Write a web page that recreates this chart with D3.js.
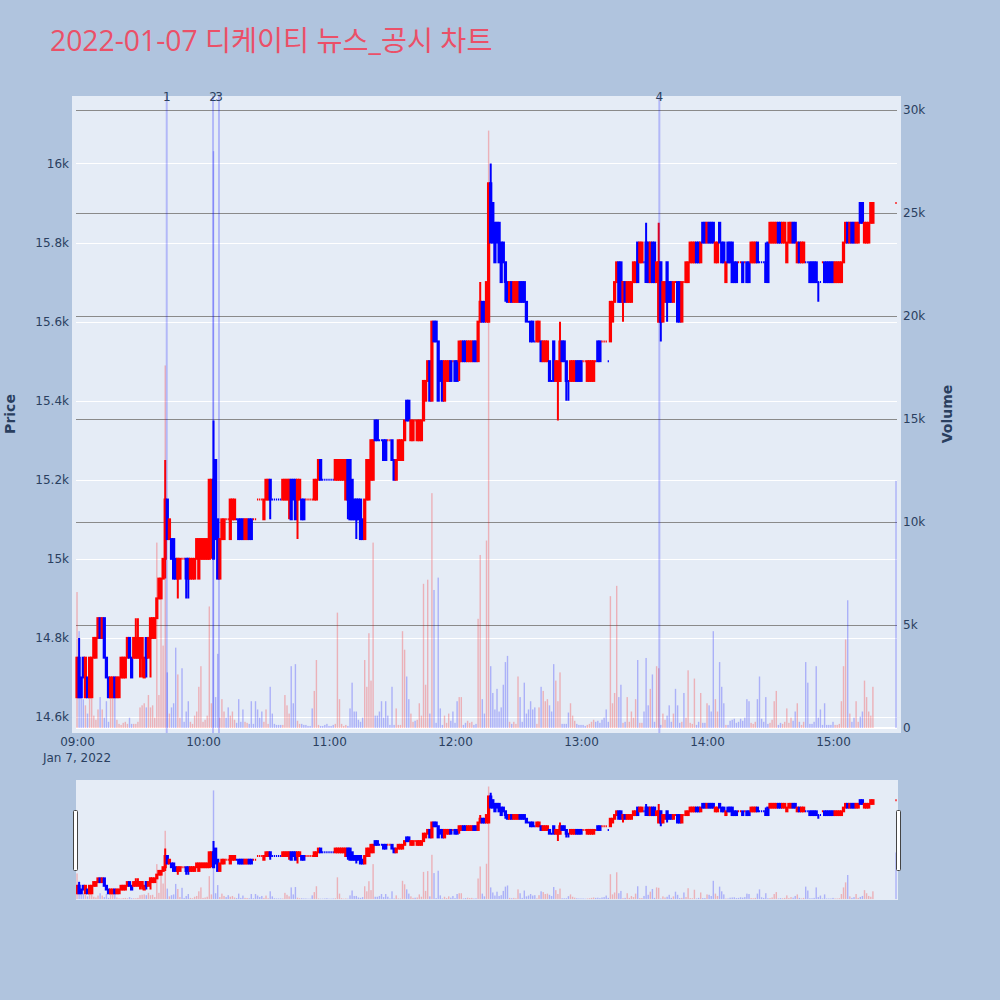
<!DOCTYPE html>
<html><head><meta charset="utf-8">
<script src="https://cdn.jsdelivr.net/npm/d3@7"></script>
<style>body{margin:0;background:#B0C4DE}svg{display:block}</style>
</head><body><svg id="c" width="1000" height="1000"></svg>
<script>
const chartTitle = "2022-01-07 디케이티 뉴스_공시 차트";
const tradeDate = "2022-01-07";
// minutes after 09:00 that carry a candle (continuous session to 15:19, closing auction at 15:30)
const minuteIndex = [...d3.range(0, 380), 390];

const open = [
14650,14750,14700,14750,14650,14700,14650,14650,14750,14750,
14800,14850,14800,14850,14750,14700,14650,14650,14700,14650,
14650,14700,14700,14700,14750,14800,14750,14750,14750,14750,
14750,14750,14700,14800,14750,14800,14800,14800,14850,14900,
14900,14950,15000,15150,15050,15050,15050,15000,14950,14950,
15000,15000,15000,15000,14950,14950,14950,15000,14950,15000,
15000,15000,15000,15000,15050,15200,15250,15100,14950,15050,
15050,15100,15100,15050,15100,15100,15100,15100,15100,15100,
15050,15050,15100,15100,15100,15100,15150,15150,15150,15100,
15150,15150,15200,15150,15150,15150,15150,15150,15150,15150,
15150,15150,15200,15200,15200,15150,15150,15150,15150,15150,
15150,15150,15150,15150,15150,15200,15250,15200,15200,15200,
15200,15200,15200,15200,15200,15200,15200,15200,15150,15250,
15250,15200,15150,15150,15150,15150,15100,15050,15150,15150,
15200,15200,15350,15350,15300,15300,15300,15300,15300,15300,
15300,15250,15200,15250,15250,15250,15300,15400,15400,15300,
15300,15350,15300,15300,15300,15350,15400,15450,15500,15400,
15600,15600,15550,15500,15500,15400,15450,15450,15500,15500,
15500,15500,15500,15500,15550,15550,15500,15500,15500,15550,
15550,15500,15600,15650,15650,15600,15600,15950,15900,15850,
15850,15850,15800,15800,15750,15700,15650,15700,15650,15650,
15650,15700,15700,15700,15650,15600,15600,15600,15550,15550,
15550,15550,15500,15500,15500,15500,15450,15550,15450,15450,
15450,15550,15550,15500,15450,15450,15450,15450,15500,15500,
15500,15500,15500,15450,15450,15450,15450,15500,15550,15550,
15550,15550,15550,15500,15550,15600,15650,15700,15750,15750,
15650,15700,15650,15650,15650,15700,15700,15800,15750,15750,
15750,15800,15800,15700,15800,15800,15700,15600,15750,15600,
15650,15750,15700,15700,15650,15700,15700,15700,15600,15700,
15700,15700,15750,15750,15750,15800,15800,15750,15850,15850,
15800,15850,15850,15850,15750,15750,15850,15800,15800,15700,
15800,15800,15800,15750,15750,15750,15750,15750,15750,15750,
15750,15750,15750,15750,15800,15750,15750,15750,15750,15800,
15800,15800,15800,15800,15850,15850,15800,15800,15750,15800,
15800,15850,15850,15750,15800,15750,15750,15750,15750,15750,
15750,15750,15750,15700,15700,15750,15750,15750,15750,15750,
15750,15700,15700,15700,15700,15750,15800,15850,15800,15850,
15850,15800,15800,15900,15900,15800,15800,15800,15850,15850,
15900];

const high = [
14750,14800,14700,14750,14750,14700,14750,14750,14800,14800,
14850,14850,14850,14850,14750,14700,14700,14700,14700,14700,
14700,14750,14750,14750,14800,14800,14750,14800,14850,14850,
14800,14800,14750,14800,14800,14850,14850,14850,14900,14950,
14950,15000,15250,15150,15100,15050,15050,15000,15000,15000,
15000,15000,15000,15000,15000,15000,15000,15050,15050,15050,
15050,15050,15050,15200,15200,15350,15250,15100,15050,15100,
15100,15100,15100,15150,15150,15150,15100,15100,15100,15100,
15100,15100,15100,15100,15100,15100,15150,15150,15150,15150,
15200,15200,15200,15150,15150,15150,15150,15150,15200,15200,
15200,15200,15200,15200,15200,15200,15200,15150,15150,15150,
15150,15150,15150,15200,15200,15250,15250,15200,15200,15200,
15200,15200,15200,15250,15250,15250,15250,15250,15250,15250,
15250,15200,15150,15150,15150,15150,15100,15150,15250,15250,
15300,15300,15350,15350,15300,15300,15300,15300,15300,15300,
15300,15250,15250,15300,15300,15300,15350,15400,15400,15350,
15350,15350,15350,15350,15350,15450,15450,15500,15500,15600,
15600,15600,15550,15500,15500,15500,15500,15500,15500,15500,
15500,15500,15550,15550,15550,15550,15550,15550,15550,15550,
15550,15600,15700,15650,15650,15700,15950,16000,15900,15850,
15850,15850,15800,15800,15750,15700,15700,15700,15700,15700,
15700,15700,15700,15700,15650,15600,15600,15600,15550,15600,
15600,15550,15550,15550,15550,15500,15450,15550,15500,15500,
15600,15550,15550,15500,15450,15500,15500,15500,15500,15500,
15500,15500,15500,15500,15500,15500,15500,15500,15550,15550,
15550,15550,15550,15500,15650,15650,15700,15750,15750,15750,
15700,15700,15700,15700,15700,15750,15750,15800,15800,15800,
15750,15850,15800,15800,15800,15800,15750,15850,15750,15700,
15700,15750,15700,15700,15700,15700,15700,15700,15700,15700,
15750,15750,15800,15800,15800,15800,15800,15800,15850,15850,
15850,15850,15850,15850,15800,15800,15850,15800,15800,15750,
15800,15800,15800,15750,15750,15750,15750,15750,15750,15750,
15750,15800,15800,15800,15800,15750,15750,15750,15800,15800,
15850,15850,15850,15850,15850,15850,15850,15850,15800,15850,
15850,15850,15850,15800,15800,15800,15800,15750,15750,15750,
15750,15750,15750,15700,15700,15750,15750,15750,15750,15750,
15750,15750,15750,15750,15750,15800,15850,15850,15850,15850,
15850,15850,15850,15900,15900,15850,15850,15850,15900,15900,
15900];

const low = [
14650,14650,14650,14700,14650,14650,14650,14650,14750,14750,
14800,14800,14800,14750,14700,14650,14650,14650,14650,14650,
14650,14700,14700,14700,14750,14750,14700,14750,14750,14750,
14700,14700,14700,14700,14750,14700,14800,14800,14850,14900,
14900,14950,14950,15050,15050,15000,14950,14950,14900,14950,
15000,15000,14900,14900,14950,14950,14950,15000,14950,15000,
15000,15000,15000,15000,15000,15000,15050,14950,14950,15050,
15050,15100,15100,15050,15100,15100,15100,15050,15050,15050,
15050,15050,15050,15050,15100,15100,15150,15150,15150,15100,
15150,15150,15100,15150,15150,15150,15150,15150,15150,15150,
15150,15100,15100,15150,15100,15050,15150,15100,15100,15150,
15150,15150,15150,15150,15150,15200,15200,15200,15200,15200,
15200,15200,15200,15200,15200,15200,15200,15200,15150,15100,
15100,15100,15100,15050,15100,15050,15050,15050,15150,15150,
15200,15200,15300,15300,15300,15300,15250,15250,15300,15300,
15250,15200,15200,15250,15250,15250,15300,15350,15350,15300,
15300,15350,15300,15300,15300,15350,15400,15450,15400,15400,
15550,15550,15400,15450,15400,15400,15450,15450,15450,15500,
15450,15450,15450,15500,15500,15500,15500,15500,15500,15500,
15500,15500,15600,15600,15600,15600,15600,15800,15800,15750,
15800,15750,15700,15750,15650,15650,15650,15650,15650,15650,
15650,15650,15650,15650,15600,15600,15550,15550,15550,15550,
15550,15500,15500,15500,15500,15450,15450,15450,15450,15350,
15450,15500,15500,15400,15400,15450,15450,15450,15450,15450,
15450,15500,15500,15450,15450,15450,15450,15500,15500,15500,
15550,15550,15550,15500,15550,15600,15650,15700,15650,15650,
15600,15650,15650,15650,15650,15700,15700,15700,15750,15750,
15750,15700,15700,15700,15700,15700,15700,15600,15550,15600,
15650,15600,15650,15650,15650,15700,15600,15600,15600,15700,
15700,15700,15750,15750,15750,15750,15750,15750,15800,15800,
15800,15800,15800,15800,15750,15750,15800,15750,15750,15700,
15750,15750,15700,15700,15700,15750,15750,15700,15750,15700,
15700,15750,15750,15750,15750,15750,15750,15750,15700,15700,
15800,15800,15800,15800,15800,15800,15800,15800,15750,15800,
15800,15800,15800,15750,15750,15750,15750,15750,15750,15700,
15700,15700,15700,15650,15700,15750,15700,15700,15700,15700,
15700,15700,15700,15700,15700,15750,15800,15800,15800,15800,
15800,15800,15800,15850,15850,15800,15800,15800,15850,15850,
15900];

const close = [
14750,14650,14650,14700,14750,14650,14750,14750,14800,14800,
14850,14800,14850,14750,14700,14650,14700,14700,14650,14700,
14700,14750,14750,14750,14800,14750,14700,14800,14800,14800,
14800,14800,14750,14750,14800,14850,14850,14850,14900,14950,
14950,15000,15150,15050,15100,15000,14950,14950,15000,15000,
15000,15000,14950,14950,15000,15000,15000,15050,15050,15050,
15050,15050,15050,15200,15200,15000,15050,14950,15050,15100,
15100,15100,15100,15150,15150,15150,15100,15050,15050,15050,
15100,15100,15050,15050,15100,15100,15150,15150,15150,15150,
15200,15200,15150,15150,15150,15150,15150,15150,15200,15200,
15200,15200,15100,15150,15100,15200,15200,15100,15100,15150,
15150,15150,15150,15200,15200,15250,15200,15200,15200,15200,
15200,15200,15200,15250,15250,15250,15250,15250,15250,15150,
15100,15100,15100,15100,15100,15050,15050,15150,15250,15250,
15300,15300,15300,15300,15300,15300,15250,15250,15300,15300,
15250,15200,15250,15300,15300,15300,15350,15350,15350,15350,
15350,15350,15350,15350,15350,15450,15450,15500,15400,15600,
15550,15550,15400,15450,15400,15500,15500,15500,15450,15500,
15450,15450,15550,15550,15500,15500,15550,15550,15550,15500,
15500,15600,15650,15600,15600,15700,15950,15800,15800,15750,
15800,15750,15700,15750,15700,15650,15700,15650,15700,15700,
15700,15650,15650,15650,15600,15600,15550,15550,15550,15600,
15600,15500,15550,15550,15550,15450,15450,15450,15500,15500,
15550,15500,15500,15450,15450,15500,15500,15500,15450,15450,
15450,15500,15500,15500,15500,15500,15500,15500,15500,15500,
15550,15550,15550,15500,15650,15650,15700,15750,15650,15650,
15700,15650,15700,15700,15700,15750,15750,15700,15800,15800,
15750,15700,15700,15800,15700,15700,15750,15750,15600,15700,
15700,15650,15650,15650,15700,15700,15600,15600,15700,15700,
15750,15750,15800,15800,15800,15750,15750,15800,15800,15800,
15850,15800,15800,15800,15800,15800,15800,15750,15750,15750,
15750,15750,15700,15700,15700,15750,15750,15700,15750,15700,
15700,15800,15800,15800,15750,15750,15750,15750,15700,15700,
15850,15850,15850,15850,15800,15800,15850,15850,15800,15850,
15850,15800,15800,15800,15750,15800,15800,15750,15750,15700,
15700,15700,15700,15700,15700,15750,15700,15700,15700,15700,
15700,15750,15750,15750,15750,15800,15850,15800,15850,15800,
15800,15850,15850,15850,15850,15850,15850,15850,15900,15900,
15900];

const volume = [
6600,4700,1800,1400,1100,700,1500,1800,600,400,
900,1500,900,500,1300,300,1500,1800,1500,400,
200,150,250,300,200,500,200,200,200,300,
1000,1100,1200,1000,1600,1000,1100,500,9000,1600,
6900,4000,17600,2700,700,1000,1200,3900,2600,500,
2900,300,800,1300,300,200,600,800,2000,3000,
300,400,600,5900,1200,28000,1500,3600,500,1400,
800,500,1000,600,800,400,250,1400,300,900,
300,250,200,1300,200,1300,900,500,800,300,
900,200,2000,700,200,150,150,150,150,1600,
1100,700,3000,1200,3100,350,200,200,150,150,
100,100,950,1800,3300,150,100,100,150,200,
100,100,150,200,5600,1400,200,100,150,100,
950,2200,800,800,400,300,500,3300,2000,4600,
2300,9000,600,600,800,1300,500,1300,600,150,
2000,150,950,150,150,4700,3800,2500,1400,700,
300,350,400,1200,600,7000,2100,7200,700,11400,
6700,250,7300,950,150,600,250,700,350,800,
250,1300,1500,1500,150,250,350,250,300,150,
200,5300,8400,1400,700,9100,29000,3000,1700,900,
1900,800,1000,2100,3200,3500,300,200,300,200,
2500,1500,300,2200,700,900,1300,900,1000,200,
1000,2000,1800,1300,1400,1100,800,3100,2300,1300,
2700,200,200,200,750,1200,600,350,200,150,
150,150,100,150,200,300,400,300,350,250,
400,500,900,300,6400,1200,1700,6900,1500,2100,
250,300,1500,300,800,500,1400,3300,250,250,
800,3400,1100,1900,2600,300,3000,2900,150,700,
400,600,1100,300,700,1900,1100,250,300,1700,
500,2800,250,200,2400,150,300,1700,250,250,
1200,1100,800,4700,1400,800,3200,2000,1200,150,
150,350,400,450,250,300,450,350,500,1400,
1300,250,200,300,1400,2500,450,300,1500,200,
250,400,1300,1800,150,250,200,300,950,250,
500,350,800,1200,300,150,300,3200,2200,200,
200,300,3000,500,900,150,1200,150,150,150,
300,150,150,200,1300,3000,4300,6200,700,300,
500,1300,300,550,800,2300,1500,800,600,2000,
12000];

const priceTicks = [14600,14800,15000,15200,15400,15600,15800,16000];
const priceTickLabels = ["14.6k","14.8k","15k","15.2k","15.4k","15.6k","15.8k","16k"];
const volumeTicks = [0,5000,10000,15000,20000,25000,30000];
const volumeTickLabels = ["0","5k","10k","15k","20k","25k","30k"];
const timeTicks = ["09:00","10:00","11:00","12:00","13:00","14:00","15:00"];
const newsLabels = ["1","2","3","4"];
const newsTimes = ["09:42:43","10:04:46","10:07:36","13:37:18"];

const INC = "#FF0000", DEC = "#0000FF";
const TICK_FONT = "'DejaVu Sans',Verdana,sans-serif";
const svg = d3.select("#c");
const parseT = d3.timeParse("%Y-%m-%d %H:%M:%S");
const t0 = parseT(tradeDate + " 09:00:00");
const times = minuteIndex.map(m => d3.timeMinute.offset(t0, m));

// layout
const P = {l:72, r:901, t:96, b:733};
const G = {l:76, r:898};
const S = {t:780, b:900};

const x = d3.scaleTime()
  .domain([parseT(tradeDate + " 08:59:31"), parseT(tradeDate + " 15:30:57")])
  .range([G.l, G.r]);
const yP = d3.scaleLinear().domain([14559.5, 16170.7]).range([P.b, P.t]);
const yV = d3.scaleLinear().domain([-243, 30680]).range([P.b, P.t]);
const ySP = yP.copy().range([S.b, S.t]);
const ySV = yV.copy().range([S.b, S.t]);

// direction as plotly computes it
let inc = true, cPrev = null;
const increasing = close.map((c, i) => {
  const o = open[i];
  if (c === o) { if (cPrev !== null && c !== cPrev) inc = c > cPrev; }
  else inc = c > o;
  cPrev = c;
  return inc;
});
const rows = times.map((t, i) => ({t, o:open[i], h:high[i], l:low[i], c:close[i], v:volume[i], inc:increasing[i], vUp: close[i] > open[i]}));

const defs = svg.append("defs");
defs.append("clipPath").attr("id","clipMain").append("rect")
  .attr("x",P.l).attr("y",P.t).attr("width",P.r-P.l).attr("height",P.b-P.t);
defs.append("clipPath").attr("id","clipSlider").append("rect")
  .attr("x",G.l).attr("y",S.t).attr("width",G.r-G.l).attr("height",S.b-S.t);

// background
svg.append("rect").attr("width",1000).attr("height",1000).attr("fill","#B0C4DE");
svg.append("rect").attr("x",P.l).attr("y",P.t).attr("width",P.r-P.l).attr("height",P.b-P.t).attr("fill","#E5ECF6");

// title
svg.append("text").attr("x",50).attr("y",51).text(chartTitle)
  .attr("font-family","'Open Sans','Noto Sans CJK KR',sans-serif").attr("font-size",28.3)
  .attr("fill","#EB5068");

// price gridlines (white)
svg.append("g").selectAll("line").data(priceTicks).join("line")
  .attr("x1",G.l).attr("x2",897).attr("y1",d=>Math.round(yP(d))+0.5).attr("y2",d=>Math.round(yP(d))+0.5)
  .attr("stroke","#ffffff").attr("stroke-width",1);
// volume gridlines (gray)
svg.append("g").selectAll("line").data(volumeTicks.filter(d=>d>0)).join("line")
  .attr("x1",G.l).attr("x2",897).attr("y1",d=>Math.round(yV(d))+0.5).attr("y2",d=>Math.round(yV(d))+0.5)
  .attr("stroke","#8a8a8a").attr("stroke-width",1);
// zero line of volume axis
svg.append("line").attr("x1",G.l).attr("x2",897).attr("y1",yV(0)).attr("y2",yV(0))
  .attr("stroke","#ffffff").attr("stroke-width",2);

function drawTraces(g, ys, yv) {
  const bw = x(d3.timeSecond.offset(t0, 20)) - x(t0);
  g.append("g").selectAll("rect").data(rows).join("rect")
    .attr("x", d => x(d.t) - bw)
    .attr("width", bw*2)
    .attr("y", d => yv(d.v))
    .attr("height", d => yv(0) - yv(d.v))
    .attr("fill", d => d.vUp ? "rgba(255,0,0,0.25)" : "rgba(0,0,255,0.25)");
  const hw = x(d3.timeSecond.offset(t0, 18)) - x(t0);
  g.append("g").selectAll("path").data(rows).join("path")
    .attr("d", d => {
      const cx = x(d.t), yo = ys(d.o), yc = ys(d.c), yh = ys(d.h), yl = ys(d.l);
      const top = Math.min(yo,yc), bot = Math.max(yo,yc);
      return `M${cx-hw},${yo}H${cx+hw}V${yc}H${cx-hw}Z` +
        (yh < top ? `M${cx},${yh}V${top}` : "") +
        (yl > bot ? `M${cx},${bot}V${yl}` : "");
    })
    .attr("fill", d => d.inc ? INC : DEC)
    .attr("stroke", d => d.inc ? INC : DEC)
    .attr("stroke-width", 2);
}

const main = svg.append("g").attr("clip-path","url(#clipMain)");
drawTraces(main, yP, yV);

// news marker lines
const newsDates = newsTimes.map(s => parseT(tradeDate + " " + s));
svg.append("g").selectAll("line").data(newsDates).join("line")
  .attr("x1",d=>x(d)).attr("x2",d=>x(d)).attr("y1",P.t).attr("y2",P.b)
  .attr("stroke","rgba(0,0,255,0.22)").attr("stroke-width",2);
svg.append("g").selectAll("text").data(newsDates).join("text")
  .attr("x",d=>x(d)).attr("y",101).attr("text-anchor","middle")
  .attr("font-family",TICK_FONT).attr("font-size",12).attr("fill","#2a3f5f")
  .text((d,i)=>newsLabels[i]);

// axes
const axisFont = g => g.selectAll("text").attr("font-family",TICK_FONT).attr("font-size",12).attr("fill","#2a3f5f");
svg.append("g").attr("transform",`translate(${P.l},0)`)
  .call(d3.axisLeft(yP).tickValues(priceTicks).tickFormat((d,i)=>priceTickLabels[i]).tickSize(0).tickPadding(3))
  .call(g=>g.select(".domain").remove()).call(axisFont);
svg.append("g").attr("transform",`translate(${P.r},0)`)
  .call(d3.axisRight(yV).tickValues(volumeTicks).tickFormat((d,i)=>volumeTickLabels[i]).tickSize(0).tickPadding(2))
  .call(g=>g.select(".domain").remove()).call(axisFont);
const timeTickDates = timeTicks.map(s => parseT(tradeDate + " " + s + ":00"));
svg.append("g").attr("transform",`translate(0,${P.b})`)
  .call(d3.axisBottom(x).tickValues(timeTickDates).tickFormat((d,i)=>timeTicks[i]).tickSize(0).tickPadding(4.5))
  .call(g=>g.select(".domain").remove()).call(axisFont);
svg.append("text").attr("x",x(timeTickDates[0])).attr("y",762).attr("text-anchor","middle")
  .attr("font-family",TICK_FONT).attr("font-size",12).attr("fill","#2a3f5f")
  .text(d3.timeFormat("%b %-d, %Y")(t0));

// axis titles
svg.append("text").attr("transform","translate(15,414) rotate(-90)").attr("text-anchor","middle")
  .attr("font-family",TICK_FONT).attr("font-size",14).attr("font-weight","bold").attr("fill","#2a3f5f").text("Price");
svg.append("text").attr("transform","translate(952,414) rotate(-90)").attr("text-anchor","middle")
  .attr("font-family",TICK_FONT).attr("font-size",14).attr("font-weight","bold").attr("fill","#2a3f5f").text("Volume");

// range slider
svg.append("rect").attr("x",G.l).attr("y",S.t).attr("width",G.r-G.l).attr("height",S.b-S.t).attr("fill","#E5ECF6");
const slider = svg.append("g").attr("clip-path","url(#clipSlider)");
drawTraces(slider, ySP, ySV);
[G.l-2.5, G.r-1.5].forEach(hx => {
  svg.append("rect").attr("x",hx).attr("y",810.5).attr("width",4).attr("height",60)
    .attr("fill","#ffffff").attr("stroke","#444").attr("stroke-width",1).attr("rx",1);
});
</script></body></html>
